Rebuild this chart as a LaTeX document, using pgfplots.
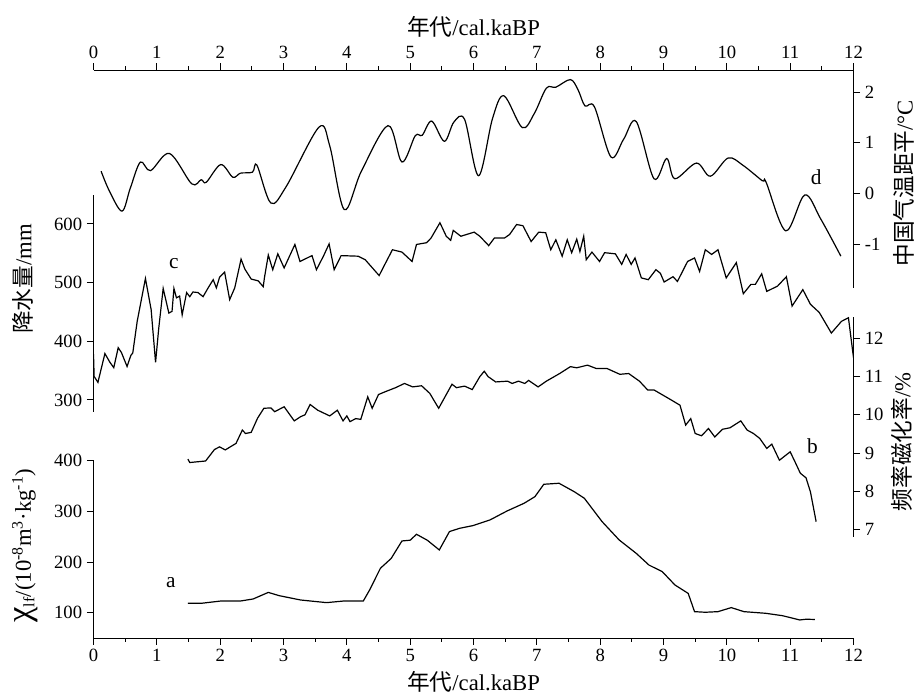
\documentclass[border=0pt]{standalone}
\usepackage{fontspec}
\setmainfont{Liberation Serif}
\newfontfamily\cjk{Noto Sans CJK SC}
\usepackage{pgfplots}
\pgfplotsset{compat=1.18}

\pgfplotsset{
  lay/.style={scale only axis, width=570pt, xmin=0, xmax=12,
    axis line style={line width=0.7pt}, tick style={line width=0.7pt, black},
    tick align=outside, major tick length=5pt, minor tick length=2.8pt,
    ticklabel style={font=\fontsize{14}{16}\selectfont},
    /pgf/number format/assume math mode=true,
    xlabel style={font=\fontsize{17}{19}\selectfont}},
  ylab/.style 2 args={every axis y label/.style={rotate=90, anchor=center,
    font=\fontsize{17}{19}\selectfont, at={(rel axis cs:#1,#2)}}},
  curve/.style={black, line width=0.9pt, no markers}
}
\tikzset{tag/.style={font=\fontsize{16}{18}\selectfont}}

\begin{document}
\begin{tikzpicture}
\useasboundingbox (0,0) rectangle (690pt,521.25pt);

% a: chi_lf, bottom axis
\begin{axis}[lay, at={(70.125pt,42.75pt)}, anchor=south west, height=133pt,
  ymin=50, ymax=400, ytick={100,200,300,400},
  axis x line*=bottom, axis y line*=left,
  xtick={0,...,12}, minor x tick num=1,
  xlabel={{\cjk 年代}/cal.kaBP},
  ylab={-0.090}{0.52},
  ylabel={{\fontsize{26}{26}\selectfont χ}\textsubscript{lf}/(10\textsuperscript{-8}m\textsuperscript{3}·kg\textsuperscript{-1})}]
\addplot[curve] coordinates {(1.49,118.6)(1.71,118.6)(2.01,123)(2.32,123)(2.52,127)(2.76,140)(2.93,133.6)(3.27,125)(3.68,119.8)(3.95,123)(4.26,123)(4.36,144.8)(4.53,187.6)(4.70,207)(4.87,241.5)(5.00,243)(5.10,254.7)(5.27,243)(5.46,223.8)(5.62,260)(5.78,266.5)(5.99,271.8)(6.26,283)(6.53,300.7)(6.80,316)(6.97,329)(7.11,353.4)(7.35,355.4)(7.59,338.8)(7.75,325.8)(8.03,279.7)(8.30,243.5)(8.57,217)(8.77,194)(8.98,181)(9.18,154.7)(9.39,138)(9.49,102)(9.66,100.8)(9.86,102)(10.07,110)(10.27,102)(10.61,98.8)(10.88,94)(11.15,85.6)(11.25,87)(11.39,86.6)};
\node[tag] at (axis cs:1.22,159) {a};
\end{axis}

% b: frequency-dependent susceptibility, right axis
\begin{axis}[lay, at={(70.125pt,118.5pt)}, anchor=south west, height=164.7pt,
  ymin=6.8, ymax=12.55, ytick={7,...,12},
  axis x line=none, axis y line*=right,
  ylab={1.0635}{0.433},
  ylabel={{\cjk 频率磁化率}/\%}]
\addplot[curve] coordinates {(1.49,8.84)(1.52,8.75)(1.77,8.79)(1.91,9.09)(1.99,9.16)(2.08,9.08)(2.25,9.25)(2.35,9.60)(2.40,9.51)(2.49,9.54)(2.59,9.91)(2.69,10.17)(2.80,10.18)(2.86,10.08)(3.01,10.21)(3.17,9.84)(3.27,9.95)(3.34,10.0)(3.42,10.27)(3.54,10.12)(3.73,9.97)(3.85,10.12)(3.94,9.84)(4.00,9.97)(4.05,9.82)(4.14,9.90)(4.22,9.88)(4.33,10.47)(4.40,10.17)(4.50,10.53)(4.60,10.60)(4.77,10.71)(4.91,10.82)(5.04,10.73)(5.18,10.76)(5.31,10.56)(5.45,10.17)(5.55,10.47)(5.66,10.80)(5.73,10.71)(5.86,10.75)(5.98,10.66)(6.10,11.0)(6.17,11.14)(6.23,11.0)(6.35,10.86)(6.54,10.88)(6.61,10.82)(6.71,10.88)(6.81,10.82)(6.87,10.90)(7.02,10.73)(7.15,10.88)(7.36,11.08)(7.53,11.26)(7.63,11.23)(7.80,11.30)(7.94,11.21)(8.11,11.21)(8.31,11.06)(8.45,11.08)(8.62,10.88)(8.75,10.65)(8.85,10.65)(9.13,10.38)(9.26,10.25)(9.35,9.73)(9.43,9.90)(9.50,9.51)(9.60,9.45)(9.71,9.64)(9.81,9.42)(9.93,9.62)(10.05,9.66)(10.22,9.84)(10.32,9.60)(10.42,9.51)(10.52,9.38)(10.63,9.12)(10.71,9.23)(10.83,8.81)(11.00,9.03)(11.07,8.79)(11.16,8.47)(11.25,8.35)(11.32,7.98)(11.41,7.20)};
\node[tag] at (axis cs:11.35,9.18) {b};
\end{axis}

% c: precipitation, left axis
\begin{axis}[lay, at={(70.125pt,212.5pt)}, anchor=south west, height=162.8pt,
  ymin=280, ymax=650, ytick={300,400,500,600},
  axis x line=none, axis y line*=left,
  ylab={-0.093}{0.611},
  ylabel={{\cjk 降水量}/mm}]
\addplot[curve] coordinates {(0.0,378)(0.01,340)(0.07,330)(0.18,379)(0.26,364)(0.32,355)(0.39,389)(0.44,381)(0.53,357)(0.59,376)(0.62,380)(0.69,434)(0.82,507)(0.91,454)(0.98,364)(1.03,422)(1.10,490)(1.19,448)(1.24,451)(1.27,490)(1.31,474)(1.36,477)(1.40,445)(1.47,483)(1.52,476)(1.57,484)(1.65,483)(1.73,476)(1.81,491)(1.89,505)(1.94,491)(1.99,509)(2.07,518)(2.15,471)(2.23,491)(2.33,540)(2.39,523)(2.49,506)(2.60,503)(2.68,493)(2.70,509)(2.76,547)(2.83,522)(2.91,549)(3.01,525)(3.18,565)(3.26,536)(3.45,546)(3.52,522)(3.63,545)(3.72,566)(3.80,522)(3.91,546)(4.18,545)(4.29,539)(4.51,512)(4.60,531)(4.72,556)(4.87,552)(5.03,536)(5.10,565)(5.26,568)(5.33,576)(5.47,602)(5.57,579)(5.64,572)(5.68,589)(5.80,579)(6.01,586)(6.10,579)(6.24,563)(6.33,576)(6.49,576)(6.57,582)(6.68,599)(6.78,597)(6.91,570)(7.03,586)(7.14,585)(7.22,556)(7.30,573)(7.40,545)(7.48,573)(7.55,551)(7.63,574)(7.68,553)(7.74,579)(7.78,539)(7.87,552)(7.99,536)(8.07,551)(8.24,549)(8.34,531)(8.41,548)(8.49,531)(8.55,542)(8.65,508)(8.76,505)(8.88,522)(8.95,516)(9.01,501)(9.15,510)(9.22,502)(9.38,536)(9.49,542)(9.57,519)(9.66,556)(9.76,548)(9.86,556)(9.99,508)(10.15,534)(10.26,481)(10.38,497)(10.45,497)(10.55,515)(10.63,485)(10.80,494)(10.94,510)(11.03,460)(11.20,488)(11.32,463)(11.46,449)(11.65,414)(11.81,434)(11.92,440)(12.0,372)};
\node[tag] at (axis cs:1.27,533) {c};
\end{axis}

% d: China temperature anomaly, right axis + top x axis
\begin{axis}[lay, at={(70.125pt,305.25pt)}, anchor=south west, height=163.5pt,
  ymin=-1.87, ymax=2.44, ytick={-1,0,1,2},
  axis x line*=top, axis y line*=right,
  xtick={0,...,12}, minor x tick num=1,
  xlabel={{\cjk 年代}/cal.kaBP},
  ylab={1.0665}{0.48},
  ylabel={{\cjk 中国气温距平}/°C}]
\addplot[curve, smooth, tension=0.55] coordinates {(0.12,0.44)(0.25,0.05)(0.45,-0.35)(0.58,0.10)(0.74,0.62)(0.90,0.45)(1.20,0.79)(1.55,0.19)(1.70,0.27)(1.78,0.22)(2.01,0.57)(2.20,0.32)(2.32,0.40)(2.51,0.42)(2.58,0.56)(2.80,-0.19)(3.04,0.13)(3.56,1.31)(3.73,0.94)(3.96,-0.32)(4.23,0.44)(4.65,1.34)(4.87,0.62)(5.08,1.14)(5.19,1.15)(5.34,1.43)(5.54,1.03)(5.69,1.41)(5.86,1.46)(6.08,0.35)(6.30,1.48)(6.48,1.93)(6.77,1.30)(6.96,1.58)(7.15,2.08)(7.30,2.10)(7.53,2.25)(7.65,2.05)(7.76,1.73)(7.91,1.71)(8.17,0.72)(8.37,1.07)(8.57,1.42)(8.85,0.29)(9.05,0.69)(9.18,0.29)(9.52,0.60)(9.74,0.34)(10.02,0.70)(10.25,0.56)(10.56,0.25)(10.62,0.22)(10.93,-0.74)(11.23,-0.03)(11.48,-0.50)(11.80,-1.24)};
\node[tag] at (axis cs:11.41,0.32) {d};
\end{axis}
\end{tikzpicture}
\end{document}
